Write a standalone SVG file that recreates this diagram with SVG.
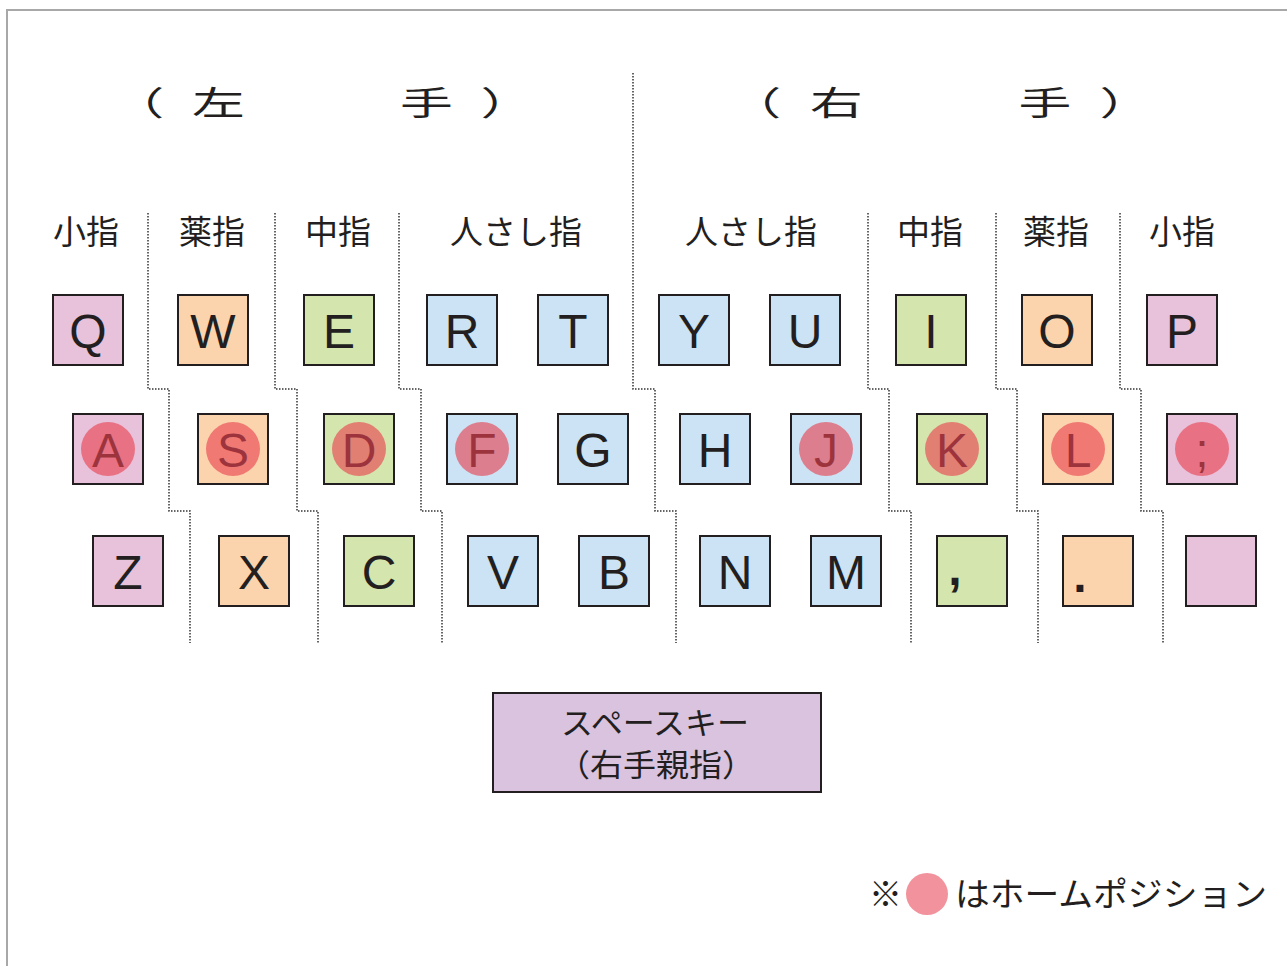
<svg xmlns="http://www.w3.org/2000/svg" width="1287" height="966" viewBox="0 0 1287 966">
<style>
.k{stroke:#231f20;stroke-width:2}
.pk{fill:#e8c1da}.or{fill:#fbd4ae}.gr{fill:#d5e5ae}.bl{fill:#cbe3f4}
.l{font-family:"Liberation Sans",Arial,sans-serif;font-size:48px;fill:#231f20;text-anchor:middle}
.j{font-family:"Noto Sans CJK JP","Noto Sans",sans-serif;fill:#231f20}
.h{font-size:33px;text-anchor:middle}
.f{font-size:33px;text-anchor:middle}
.home{fill:#e8404f;opacity:0.62}
.dot{fill:none;stroke:#333;stroke-width:1.5;stroke-dasharray:1.5 1.5}
</style>
<path d="M7,966 V10 H1287" fill="none" stroke="#a8a8a8" stroke-width="2"/>

<g id="headers">
<text class="j h" transform="translate(138,115) scale(1.6,1)">（</text>
<text class="j h" transform="translate(218.5,115) scale(1.6,1)">左</text>
<text class="j h" transform="translate(426.5,115) scale(1.6,1)">手</text>
<text class="j h" transform="translate(507,115) scale(1.6,1)">）</text>
<text class="j h" transform="translate(755,115) scale(1.6,1)">（</text>
<text class="j h" transform="translate(836.5,115) scale(1.6,1)">右</text>
<text class="j h" transform="translate(1045,115) scale(1.6,1)">手</text>
<text class="j h" transform="translate(1126,115) scale(1.6,1)">）</text>
</g>

<g id="finger-labels">
<text class="j f" x="86" y="244">小指</text>
<text class="j f" x="212" y="244">薬指</text>
<text class="j f" x="338" y="244">中指</text>
<text class="j f" x="516" y="244">人さし指</text>
<text class="j f" x="751" y="244">人さし指</text>
<text class="j f" x="930" y="244">中指</text>
<text class="j f" x="1056" y="244">薬指</text>
<text class="j f" x="1182" y="244">小指</text>
</g>

<g id="connectors">
<path class="dot" d="M148,213 V389 H169 V511 H190 V643"/>
<path class="dot" d="M275,213 V389 H297 V511 H318 V643"/>
<path class="dot" d="M399,213 V389 H421 V511 H442 V643"/>
<path class="dot" d="M633,73 V389 H655 V511 H676 V643"/>
<path class="dot" d="M868,213 V389 H889 V511 H911 V643"/>
<path class="dot" d="M996,213 V389 H1017 V511 H1038 V643"/>
<path class="dot" d="M1120,213 V389 H1141 V511 H1163 V643"/>
</g>

<g id="key-Q"><rect class="k pk" x="53" y="295" width="70" height="70"/><text class="l" x="88" y="347.5">Q</text></g>
<g id="key-W"><rect class="k or" x="178" y="295" width="70" height="70"/><text class="l" x="213" y="347.5">W</text></g>
<g id="key-E"><rect class="k gr" x="304" y="295" width="70" height="70"/><text class="l" x="339" y="347.5">E</text></g>
<g id="key-R"><rect class="k bl" x="427" y="295" width="70" height="70"/><text class="l" x="462" y="347.5">R</text></g>
<g id="key-T"><rect class="k bl" x="538" y="295" width="70" height="70"/><text class="l" x="573" y="347.5">T</text></g>
<g id="key-Y"><rect class="k bl" x="659" y="295" width="70" height="70"/><text class="l" x="694" y="347.5">Y</text></g>
<g id="key-U"><rect class="k bl" x="770" y="295" width="70" height="70"/><text class="l" x="805" y="347.5">U</text></g>
<g id="key-I"><rect class="k gr" x="896" y="295" width="70" height="70"/><text class="l" x="931" y="347.5">I</text></g>
<g id="key-O"><rect class="k or" x="1022" y="295" width="70" height="70"/><text class="l" x="1057" y="347.5">O</text></g>
<g id="key-P"><rect class="k pk" x="1147" y="295" width="70" height="70"/><text class="l" x="1182" y="347.5">P</text></g>

<g id="key-A"><rect class="k pk" x="73" y="414" width="70" height="70"/><text class="l" x="108" y="466.5">A</text><circle class="home" cx="108" cy="449" r="27"/></g>
<g id="key-S"><rect class="k or" x="198" y="414" width="70" height="70"/><text class="l" x="233" y="466.5">S</text><circle class="home" cx="233" cy="449" r="27"/></g>
<g id="key-D"><rect class="k gr" x="324" y="414" width="70" height="70"/><text class="l" x="359" y="466.5">D</text><circle class="home" cx="359" cy="449" r="27"/></g>
<g id="key-F"><rect class="k bl" x="447" y="414" width="70" height="70"/><text class="l" x="482" y="466.5">F</text><circle class="home" cx="482" cy="449" r="27"/></g>
<g id="key-G"><rect class="k bl" x="558" y="414" width="70" height="70"/><text class="l" x="593" y="466.5">G</text></g>
<g id="key-H"><rect class="k bl" x="680" y="414" width="70" height="70"/><text class="l" x="715" y="466.5">H</text></g>
<g id="key-J"><rect class="k bl" x="791" y="414" width="70" height="70"/><text class="l" x="826" y="466.5">J</text><circle class="home" cx="826" cy="449" r="27"/></g>
<g id="key-K"><rect class="k gr" x="917" y="414" width="70" height="70"/><text class="l" x="952" y="466.5">K</text><circle class="home" cx="952" cy="449" r="27"/></g>
<g id="key-L"><rect class="k or" x="1043" y="414" width="70" height="70"/><text class="l" x="1078" y="466.5">L</text><circle class="home" cx="1078" cy="449" r="27"/></g>
<g id="key-semicolon"><rect class="k pk" x="1167" y="414" width="70" height="70"/><text class="l" x="1202" y="466.5">;</text><circle class="home" cx="1202" cy="449" r="27"/></g>

<g id="key-Z"><rect class="k pk" x="93" y="536" width="70" height="70"/><text class="l" x="128" y="588.5">Z</text></g>
<g id="key-X"><rect class="k or" x="219" y="536" width="70" height="70"/><text class="l" x="254" y="588.5">X</text></g>
<g id="key-C"><rect class="k gr" x="344" y="536" width="70" height="70"/><text class="l" x="379" y="588.5">C</text></g>
<g id="key-V"><rect class="k bl" x="468" y="536" width="70" height="70"/><text class="l" x="503" y="588.5">V</text></g>
<g id="key-B"><rect class="k bl" x="579" y="536" width="70" height="70"/><text class="l" x="614" y="588.5">B</text></g>
<g id="key-N"><rect class="k bl" x="700" y="536" width="70" height="70"/><text class="l" x="735" y="588.5">N</text></g>
<g id="key-M"><rect class="k bl" x="811" y="536" width="70" height="70"/><text class="l" x="846" y="588.5">M</text></g>
<g id="key-comma"><rect class="k gr" x="937" y="536" width="70" height="70"/><text class="l" x="955" y="585" font-weight="bold">,</text></g>
<g id="key-period"><rect class="k or" x="1063" y="536" width="70" height="70"/><text class="l" x="1080" y="592" font-weight="bold">.</text></g>
<g id="key-blank"><rect class="k pk" x="1186" y="536" width="70" height="70"/></g>

<g id="space-key">
<rect x="493" y="693" width="328" height="99" fill="#d9c3df" stroke="#231f20" stroke-width="2"/>
<text class="j" x="655" y="734" font-size="31" text-anchor="middle" textLength="188" lengthAdjust="spacingAndGlyphs">スペースキー</text>
<text class="j" x="656" y="776" font-size="31" text-anchor="middle" textLength="198" lengthAdjust="spacingAndGlyphs">（右手親指）</text>
</g>

<g id="legend">
<text class="j" x="869" y="906" font-size="33">※</text>
<circle cx="927" cy="894" r="21" fill="#ea4a5a" opacity="0.6"/>
<text class="j" x="955" y="906" font-size="33" textLength="312" lengthAdjust="spacingAndGlyphs">はホームポジション</text>
</g>
</svg>
